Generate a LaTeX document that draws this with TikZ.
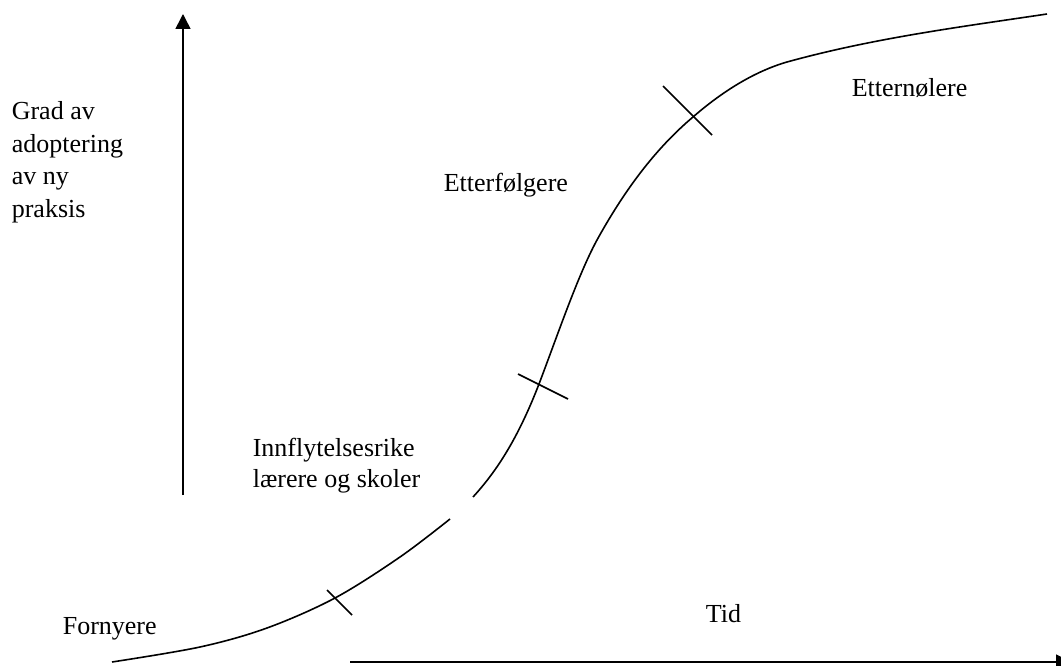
\documentclass[tikz,border=0pt]{standalone}
\usepackage{fontspec}
\setmainfont{Liberation Serif}
\usetikzlibrary{arrows.meta}
\begin{document}
\begin{tikzpicture}[x=1pt, y=-1pt, font=\fontsize{26}{31}\selectfont, line width=1.6pt, line join=round, >={Triangle[width=15pt,length=15pt]}]
\useasboundingbox (0,0) rectangle (1061,666);
\coordinate (ybot) at (183,495);
\coordinate (ytop) at (183,14);
\coordinate (xleft) at (350,662);
\coordinate (xright) at (1071,662);
\draw[->] (ybot)--(ytop);
\draw[->] (xleft)--(xright);
% kurven, brutt ved etiketten
\draw plot[smooth, tension=.55] coordinates {(112,662) (200,647) (267,628) (335,598) (400,557) (450,519)};
\draw (473,497) .. controls (495,473) and (517,441) .. (539,384)
  .. controls (558,334) and (578,275) .. (597,240)
  .. controls (629,182) and (661,144) .. (693,117)
  .. controls (724,90) and (756,71) .. (787,62)
  .. controls (874,38) and (960,27) .. (1047,14);
\foreach \xa/\ya/\xb/\yb in {327/590/352/615, 518/374/568/399, 663/86/712/135}
\draw (\xa,\ya)--(\xb,\yb);
\node[anchor=north west, inner sep=0, align=left, font=\fontsize{26}{32.5}\selectfont] (grad) at (11,101) {Grad av\\adoptering\\av ny\\praksis};
\node[anchor=base west, inner sep=0] (etterf) at (443,192) {Etterfølgere};
\node[anchor=base west, inner sep=0] (ettern) at (851,97) {Etternølere};
\node[anchor=north west, inner sep=0, align=left] (innfl) at (252,437) {Innflytelsesrike\\lærere og skoler};
\node[anchor=base west, inner sep=0] (forny) at (62,634) {Fornyere};
\node[anchor=base west, inner sep=0] (tid) at (705,622) {Tid};
\end{tikzpicture}
\end{document}
